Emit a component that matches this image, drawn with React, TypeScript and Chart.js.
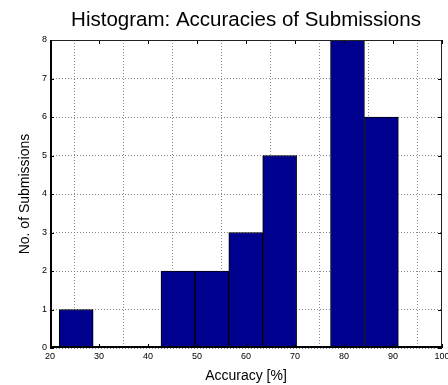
import React, { useEffect, useRef } from 'react';
import { Chart, registerables } from 'chart.js';

Chart.register(...registerables);

// Histogram bins (centers, %) and counts
const binCenters = [25.35, 32.27, 39.19, 46.11, 53.03, 59.95, 66.87, 73.79, 80.71, 87.63];
const counts = [1, 0, 0, 2, 2, 3, 5, 0, 8, 6];
const xTicks = [20, 30, 40, 50, 60, 70, 80, 90, 100];
const yTicks = [0, 1, 2, 3, 4, 5, 6, 7, 8];

const titleText = 'Histogram: Accuracies of Submissions';
const xTitle = 'Accuracy [%]';
const yTitle = 'No. of Submissions';

const FONT = '"Liberation Sans", Arial, Helvetica, sans-serif';

const boxPlugin = {
  id: 'matlabBox',
  afterDatasetsDraw(chart: any) {
    const { ctx, chartArea } = chart;
    const { left, right, top, bottom } = chartArea;
    const xs = chart.scales.x;
    const ys = chart.scales.y;
    ctx.save();
    ctx.strokeStyle = '#000';
    ctx.lineWidth = 1;
    ctx.beginPath();
    xTicks.forEach((v) => {
      const px = Math.round(xs.getPixelForValue(v)) + 0.5;
      ctx.moveTo(px, bottom);
      ctx.lineTo(px, bottom - 4);
      ctx.moveTo(px, top);
      ctx.lineTo(px, top + 4);
    });
    yTicks.forEach((v) => {
      const py = Math.round(ys.getPixelForValue(v)) + 0.5;
      ctx.moveTo(left, py);
      ctx.lineTo(left + 4, py);
      ctx.moveTo(right, py);
      ctx.lineTo(right - 4, py);
    });
    ctx.stroke();
    // box
    ctx.strokeStyle = '#222';
    ctx.lineWidth = 1;
    ctx.beginPath();
    ctx.moveTo(left, top + 0.5);
    ctx.lineTo(right, top + 0.5);
    ctx.moveTo(right - 0.5, top);
    ctx.lineTo(right - 0.5, bottom);
    ctx.stroke();
    ctx.strokeStyle = '#000';
    ctx.lineWidth = 2;
    ctx.beginPath();
    ctx.moveTo(left + 1, top);
    ctx.lineTo(left + 1, bottom);
    ctx.moveTo(left, bottom - 1);
    ctx.lineTo(right, bottom - 1);
    ctx.stroke();
    ctx.restore();
  },
};

export default function App() {
  const ref = useRef<HTMLCanvasElement>(null);

  useEffect(() => {
    if (!ref.current) return;
    const chart = new Chart(ref.current, {
      type: 'bar',
      data: {
        datasets: [
          {
            data: binCenters.map((c, i) => ({ x: c, y: counts[i] })),
            backgroundColor: '#00008F',
            borderColor: '#000000',
            borderWidth: 1,
            barPercentage: 1,
            categoryPercentage: 1,
            borderSkipped: false,
          },
        ],
      },
      options: {
        responsive: false,
        animation: false,
        devicePixelRatio: 1,
        layout: { padding: { left: 0, top: 0, bottom: 0, right: 6 } },
        plugins: {
          legend: { display: false },
          tooltip: { enabled: false },
          title: {
            display: true,
            text: titleText,
            fullSize: false,
            color: '#000',
            font: { family: FONT, size: 20.5, weight: 'normal' },
            padding: { top: 8.2, bottom: 7.2 },
          },
        },
        scales: {
          x: {
            type: 'linear',
            min: 20,
            max: 100,
            offset: false,
            afterBuildTicks: (s: any) => {
              s.ticks = xTicks.map((v) => ({ value: v }));
            },
            afterFit: (s: any) => {
              s.height = 37;
              s.paddingLeft = 0;
              s.paddingRight = 0;
            },
            border: { display: false, dash: [1, 2] },
            grid: {
              color: '#8a8a8a',
              lineWidth: 1,
              drawTicks: false,
            },
            ticks: {
              color: '#000',
              padding: 3,
              maxRotation: 0,
              autoSkip: false,
              font: { family: FONT, size: 9 },
            },
            title: {
              display: true,
              text: xTitle,
              color: '#000',
              font: { family: FONT, size: 14 },
              padding: { top: 0, bottom: 0 },
            },
          },
          y: {
            type: 'linear',
            min: 0,
            max: 8,
            afterBuildTicks: (s: any) => {
              s.ticks = yTicks.map((v) => ({ value: v }));
            },
            afterFit: (s: any) => {
              s.width = 50;
              s.paddingTop = 0;
              s.paddingBottom = 0;
            },
            border: { display: false, dash: [1, 2] },
            grid: {
              color: '#8a8a8a',
              lineWidth: 1,
              drawTicks: false,
            },
            ticks: {
              color: '#000',
              padding: 3,
              autoSkip: false,
              font: { family: FONT, size: 9 },
            },
            title: {
              display: true,
              text: yTitle,
              color: '#000',
              font: { family: FONT, size: 14 },
              padding: { top: 16.3, bottom: 0 },
            },
          },
        },
      } as any,
      plugins: [boxPlugin],
    });
    return () => chart.destroy();
  }, []);

  return (
    <div style={{ position: 'absolute', left: 0, top: 0, width: 448, height: 385, background: '#fff' }}>
      <canvas ref={ref} width={448} height={385} style={{ display: 'block' }} />
    </div>
  );
}
